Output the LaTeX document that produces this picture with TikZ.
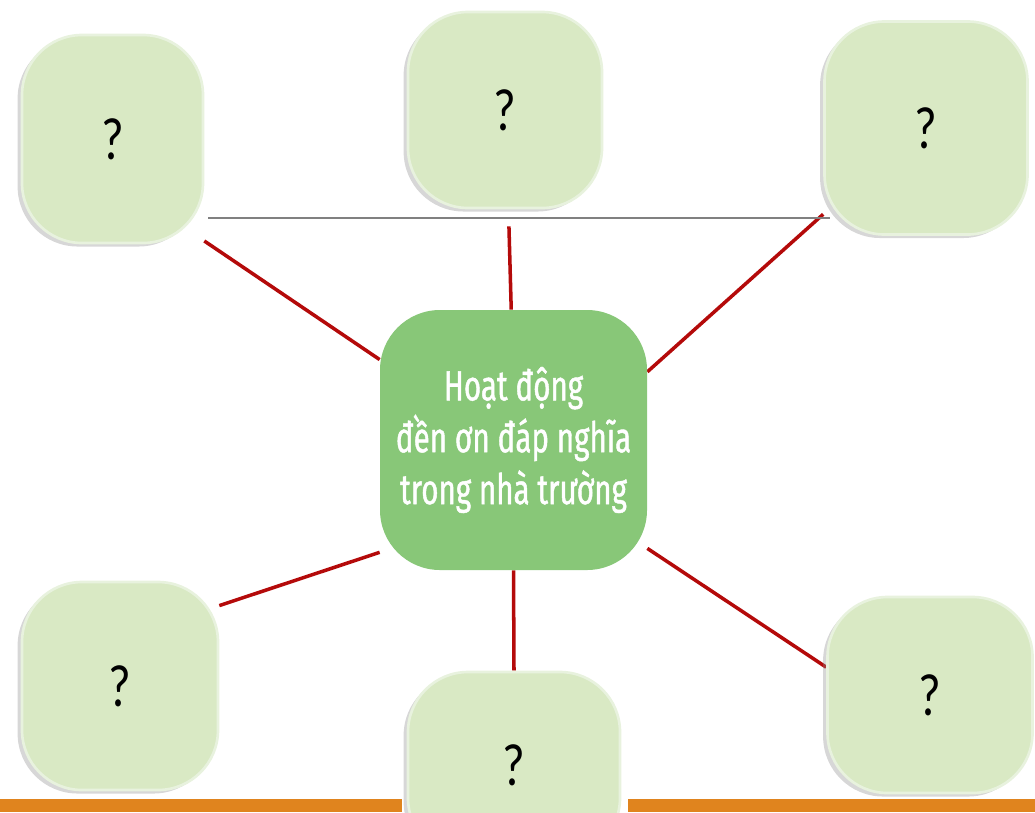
\documentclass[tikz,border=0pt]{standalone}
\usepackage{fontspec}
\newfontfamily\hubfont{Fira Sans}[FakeStretch=0.70,FakeBold=1]
\newfontfamily\qfont{Carlito}[FakeStretch=0.82]
\usetikzlibrary{shadows,backgrounds}

\definecolor{boxgreen}{RGB}{217,233,196}
\definecolor{boxedge}{RGB}{232,242,222}
\definecolor{hubgreen}{RGB}{136,199,120}
\definecolor{linkred}{RGB}{180,10,10}
\definecolor{barorange}{RGB}{224,132,30}

\begin{document}
\begin{tikzpicture}[x=0.2mm,y=-0.2mm,
  qbox/.style={draw=boxedge,line width=1.5pt,fill=boxgreen,rounded corners=1.2cm,
    font=\qfont\fontsize{34}{40}\selectfont,
    drop shadow={shadow xshift=-2.5pt,shadow yshift=-2pt,fill=black!45,opacity=.35}},
  link/.style={linkred,line width=2pt}]

  \useasboundingbox (0,0) rectangle (1035,812);

  % Orange bar
  \fill[barorange] (0,799) rectangle (402,812);
  \fill[barorange] (628,799) rectangle (1035,812);

  % Thin rule
  \draw[gray,line width=0.6pt] (208,218) -- (830,218);

  % Central box
  \node[fill=hubgreen,rounded corners=1.2cm,minimum width=5.34cm,minimum height=5.2cm,
    text=white,align=center,font=\hubfont\fontsize{24}{29.5}\selectfont] (hub) at (513.5,440)
    {Hoạt động\\đền ơn đáp nghĩa\\trong nhà trường};

  % Question boxes
  \node[qbox,minimum width=3.62cm,minimum height=4.16cm] (tl) at (112.5,139) {?};
  \node[qbox,minimum width=3.88cm,minimum height=3.92cm] (tm) at (505,110) {?};
  \node[qbox,minimum width=4.06cm,minimum height=4.26cm] (tr) at (926,128) {?};
  \node[qbox,minimum width=3.92cm,minimum height=4.16cm] (bl) at (120,686) {?};
  \node[qbox,minimum width=4.24cm,minimum height=3.72cm] (bm) at (514,765) {?};
  \node[qbox,minimum width=4.1cm,minimum height=3.92cm] (br) at (930,695) {?};

  % Links
  \begin{scope}[on background layer]
    \draw[link] (tl.-48) -- (hub.149);
    \draw[link,shorten <=0.34cm] (tm.-88) -- (hub.91);
    \draw[link] (tr.-140) -- (hub.27);
    \draw[link] (bl.39) -- (hub.-140);
    \draw[link] (hub.south) -- (bm.north);
    \draw[link] (hub.-39) -- (br.165);
  \end{scope}

\end{tikzpicture}
\end{document}
